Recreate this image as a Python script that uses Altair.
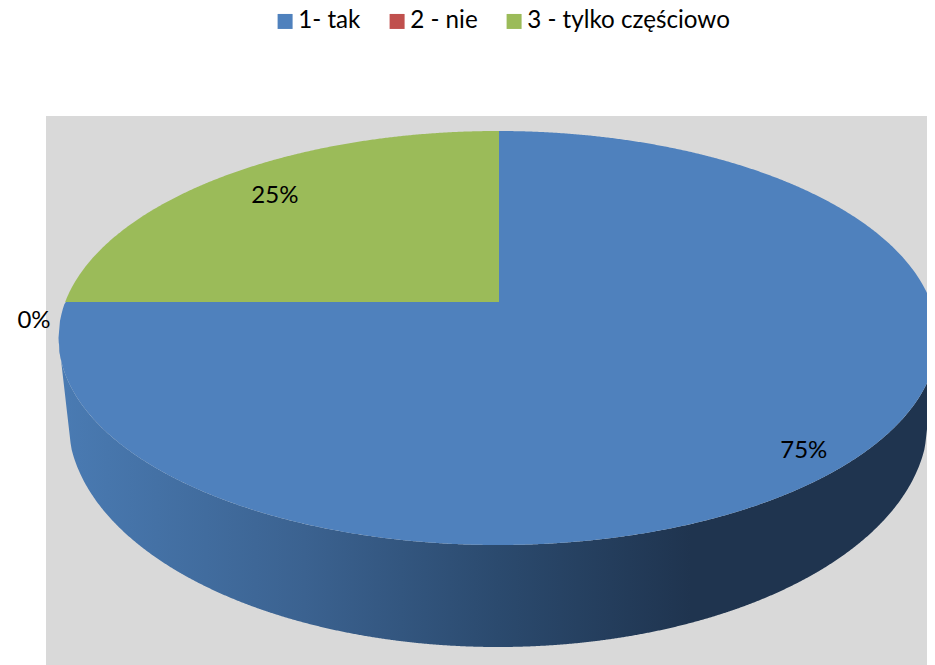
import numpy as np
import pandas as pd
import altair as alt

categories = ["1- tak", "2 - nie", "3 - tylko częściowo"]
shares = [75, 0, 25]
labels = ["75%", "0%", "25%"]
colors = ["#4F81BD", "#C0504D", "#9BBB59"]

# Drawing frame of the tilted pie
LEFT, RIGHT, TOP, BOTTOM = 46, 935, 116, 665
AX, AY = 499, 302          # apex of the slices
CX, CY, RX, RY = 498, 338, 439.5, 207   # top face
BX, BY, BRX, BRY = 498, 420, 430, 227   # bottom rim
K = RY / RX
FONT = "Lato"


def upper(x):
    return CY - RY * np.sqrt(np.clip(1 - ((x - CX) / RX) ** 2, 0, 1))


def lower(x):
    return CY + RY * np.sqrt(np.clip(1 - ((x - CX) / RX) ** 2, 0, 1))


def rim(x):
    return BY + BRY * np.sqrt(np.clip(1 - ((x - BX) / BRX) ** 2, 0, 1))


def ray_hit(t):
    dx, dy = np.sin(t), -np.cos(t) * K
    a = (dx / RX) ** 2 + (dy / RY) ** 2
    px, py = (AX - CX) / RX, (AY - CY) / RY
    b = 2 * (dx * px / RX + dy * py / RY)
    c = px ** 2 + py ** 2 - 1
    s = (-b + np.sqrt(b * b - 4 * a * c)) / (2 * a)
    return AX + s * dx, AY + s * dy


angles = np.cumsum([0] + shares) / sum(shares) * 2 * np.pi

# slices
rows = []
grid = np.linspace(CX - RX, CX + RX, 601)
for i, v in enumerate(grid):
    xs = [float(v)]
    if v < AX <= grid[min(i + 1, 600)]:
        xs = [float(v), AX, AX + 0.01]
    for x in xs:
        top = float(upper(x))
        if x <= AX:
            top = max(top, AY)
        rows.append(dict(cat=categories[0], x=x, y=top, y2=float(lower(x))))
x0, y0 = ray_hit(angles[1])
rows.append(dict(cat=categories[1], x=float(x0), y=float(y0), y2=float(y0)))
x1, _ = ray_hit(angles[2])
x2, _ = ray_hit(angles[3] - 1e-6)
for x in np.linspace(x1, x2, 300):
    rows.append(dict(cat=categories[2], x=float(x), y=float(upper(x)), y2=float(AY)))
slices = pd.DataFrame(rows)

# side wall
wall_rows = []
x_left, x_right = BX - BRX + 3, BX + BRX - 3
for x in np.linspace(CX - RX, CX + RX, 801):
    if x < x_left:
        y2 = CY + (x - (CX - RX)) / (x_left - (CX - RX)) * (rim(x_left) - CY)
    elif x > x_right:
        y2 = CY + ((CX + RX) - x) / ((CX + RX) - x_right) * (rim(x_right) - CY)
    else:
        y2 = float(rim(x))
    wall_rows.append(dict(x=float(x), y=float(lower(x)), y2=float(y2)))
wall = pd.DataFrame(wall_rows)

# percentage labels
mid = (angles[:-1] + angles[1:]) / 2
radius = [431, 465, 317]
shift = [5, 19, 0]
text = pd.DataFrame(dict(
    label=labels,
    x=[float(AX + r * np.sin(t)) for r, t in zip(radius, mid)],
    y=[float(AY - r * np.cos(t) * K + s) for r, t, s in zip(radius, mid, shift)],
))

xs = alt.Scale(domain=[LEFT, RIGHT], nice=False, zero=False)
ys = alt.Scale(domain=[BOTTOM, TOP], nice=False, zero=False)
X = alt.X("x:Q", scale=xs, axis=None)
Y = alt.Y("y:Q", scale=ys, axis=None)

wall_layer = alt.Chart(wall).mark_area(
    color=alt.Gradient(
        gradient="linear", x1=0, x2=1, y1=0, y2=0,
        stops=[
            alt.GradientStop(offset=0, color="#4A7BB3"),
            alt.GradientStop(offset=0.28, color="#3B6290"),
            alt.GradientStop(offset=0.5, color="#2B4A6E"),
            alt.GradientStop(offset=0.72, color="#1F344F"),
            alt.GradientStop(offset=1, color="#1F344F"),
        ],
    ),
).encode(x=X, y=Y, y2=alt.Y2("y2:Q"))

slice_layer = alt.Chart(slices).mark_area().encode(
    x=X, y=Y, y2=alt.Y2("y2:Q"),
    color=alt.Color(
        "cat:N",
        scale=alt.Scale(domain=categories, range=colors),
        legend=alt.Legend(
            title=None, orient="none", direction="horizontal", columns=3,
            legendX=273 - LEFT, legendY=9 - TOP,
            symbolType="square", symbolSize=225, symbolStrokeWidth=0,
            labelFont=FONT, labelFontSize=24.2, labelColor="#000000",
            labelOffset=1, columnPadding=24, padding=0, labelLimit=400,
        ),
    ),
)

text_layer = alt.Chart(text).mark_text(
    font=FONT, fontSize=24, color="#000000", baseline="middle", align="center"
).encode(x=X, y=Y, text="label:N")

chart = (
    alt.layer(wall_layer, slice_layer, text_layer)
    .properties(
        width=RIGHT - LEFT,
        height=BOTTOM - TOP,
        autosize=alt.AutoSizeParams(type="none"),
        padding=dict(left=LEFT - 8, top=TOP - 8, right=-8, bottom=0),
        background="#FFFFFF",
    )
    .configure_view(fill="#D9D9D9", stroke=None)
)

chart.save("out.html", embed_options={"renderer": "svg", "actions": False})
